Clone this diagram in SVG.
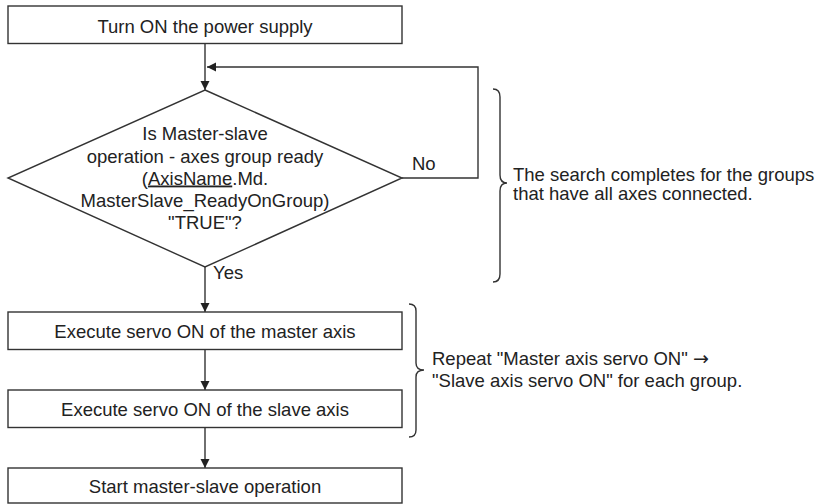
<svg xmlns="http://www.w3.org/2000/svg" width="820" height="504" viewBox="0 0 820 504">
<style>
.box{fill:#fff;stroke:#333;stroke-width:1.4}
.ln{fill:none;stroke:#333;stroke-width:1.4}
.t{font-family:"Liberation Sans",Arial,sans-serif;font-size:18.5px;fill:#222}
.c{text-anchor:middle}
.ar{font-family:"DejaVu Sans",sans-serif;font-size:19px}
</style>
<defs>
<marker id="ah" markerUnits="userSpaceOnUse" markerWidth="10" markerHeight="10" refX="9" refY="5" orient="auto">
<path d="M0,0.5 L9,5 L0,9.5 z" fill="#222"/>
</marker>
</defs>
<rect width="820" height="504" fill="#fff"/>
<g id="connectors">
<path class="ln" d="M205,43.5 V90" marker-end="url(#ah)"/>
<path class="ln" d="M402,178 H478 V67 H207" marker-end="url(#ah)"/>
<path class="ln" d="M205,267 V312" marker-end="url(#ah)"/>
<path class="ln" d="M205,349.5 V390" marker-end="url(#ah)"/>
<path class="ln" d="M205,427.5 V468" marker-end="url(#ah)"/>
<text class="t" x="412" y="170">No</text>
<text class="t" x="213" y="279">Yes</text>
</g>
<g id="n1">
<rect class="box" x="8" y="6" width="394" height="37.5"/>
<text class="t c" x="205" y="32.5">Turn ON the power supply</text>
</g>
<g id="n2">
<polygon class="box" points="205,90 402,178 205,267 8,178"/>
<text class="t c" x="205" y="140">Is Master-slave</text>
<text class="t c" x="205" y="162.5">operation - axes group ready</text>
<text class="t c" x="205" y="184.5">(<tspan text-decoration="underline">AxisName</tspan>.Md.</text>
<text class="t c" x="205" y="206.5">MasterSlave_ReadyOnGroup)</text>
<text class="t c" x="205" y="228.5">"TRUE"?</text>
</g>
<g id="n3">
<rect class="box" x="8" y="312" width="394" height="37.5"/>
<text class="t c" x="205" y="337.5">Execute servo ON of the master axis</text>
</g>
<g id="n4">
<rect class="box" x="8" y="390" width="394" height="37.5"/>
<text class="t c" x="205" y="416">Execute servo ON of the slave axis</text>
</g>
<g id="n5">
<rect class="box" x="8" y="468" width="394" height="35"/>
<text class="t c" x="205" y="492.5">Start master-slave operation</text>
</g>
<g id="note1">
<path class="ln" d="M493,89 Q500,89 500,97 L500,175 Q500,183 507,183 Q500,183 500,191 L500,274 Q500,282 493,282"/>
<text class="t" x="513" y="181">The search completes for the groups</text>
<text class="t" x="513" y="200">that have all axes connected.</text>
</g>
<g id="note2">
<path class="ln" d="M409,304 Q416,304 416,311 L416,363 Q416,370 424,370 Q416,370 416,377 L416,430 Q416,437 409,437"/>
<text class="t" x="432" y="365">Repeat "Master axis servo ON" <tspan class="ar">→</tspan></text>
<text class="t" x="432" y="387">"Slave axis servo ON" for each group.</text>
</g>
</svg>
